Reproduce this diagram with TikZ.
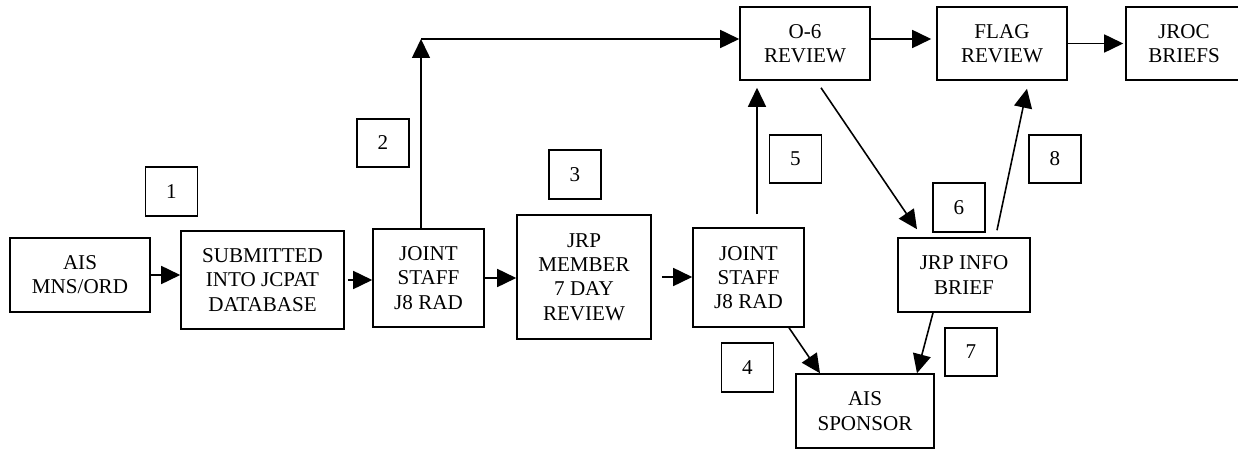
\documentclass[tikz,border=0pt]{standalone}
\usepackage{fontspec}
\setmainfont{Liberation Serif}
\usetikzlibrary{arrows.meta}
\usetikzlibrary{positioning}

\tikzset{
	box/.style={draw, line width=0.9pt, align=center, inner sep=0pt, font=\fontsize{12}{13.8}\selectfont},
	numbox/.style={box, minimum width=1.04cm, minimum height=0.97cm},
	arr/.style={-{Triangle[length=3.8mm,width=3.6mm]}, line width=0.9pt}
}

\begin{document}
\begin{tikzpicture}[x=0.02cm, y=-0.02cm]
	\useasboundingbox (0,0) rectangle (1238,449);
	% main row
	\node [box, minimum width=2.80cm, minimum height=1.48cm] at (80,275) (ais) {AIS\\MNS/ORD};
	\node [box, minimum width=3.26cm, minimum height=1.96cm] at (262.5,280) (submit) {SUBMITTED\\INTO JCPAT\\DATABASE};
	\node [box, minimum width=2.22cm, minimum height=1.96cm] at (428.5,278) (jsa) {JOINT\\STAFF\\J8 RAD};
	\node [box, minimum width=2.68cm, minimum height=2.48cm] at (584,277) (jrp) {JRP\\MEMBER\\7 DAY\\REVIEW};
	\node [box, minimum width=2.22cm, minimum height=1.98cm] at (748.5,277.5) (jsb) {JOINT\\STAFF\\J8 RAD};
	% top row
	\node [box, minimum width=2.60cm, minimum height=1.46cm] at (805,43.5) (osix) {O-6\\REVIEW};
	\node [box, minimum width=2.60cm, minimum height=1.46cm] at (1002,43.5) (flag) {FLAG\\REVIEW};
	\node [box, minimum width=2.32cm, minimum height=1.46cm] at (1184,43.5) (jroc) {JROC\\BRIEFS};
	% right side
	\node [box, minimum width=2.64cm, minimum height=1.48cm] at (964,275) (info) {JRP INFO\\BRIEF};
	\node [box, minimum width=2.76cm, minimum height=1.48cm] at (865,411) (sponsor) {AIS\\SPONSOR};
	% step numbers
	\node [numbox] at (171.5,191.5) (n1) {1};
	\node [numbox] at (383,143) (n2) {2};
	\node [numbox] at (575,174.5) (n3) {3};
	\node [numbox] at (747.5,367.5) (n4) {4};
	\node [numbox] at (795.5,159) (n5) {5};
	\node [numbox] at (959,207.5) (n6) {6};
	\node [numbox] at (971,352) (n7) {7};
	\node [numbox] at (1055,159) (n8) {8};
	\coordinate (up) at (421,39);
	% arrows
	\draw [arr] (ais.east) -- (ais.east -| submit.west);
	\draw [arr, shorten <=3*0.02cm] (submit.east) -- (submit.east -| jsa.west);
	\draw [arr] (jsa.east) -- (jsa.east -| jrp.west);
	\draw [arr, shorten <=10*0.02cm] (jrp.east) -- (jrp.east -| jsb.west);
	\draw [arr] (up |- jsa.north) -- (up);
	\draw [arr] (up) -- (up -| osix.west);
	\draw [arr, shorten >=5*0.02cm] (up -| osix.east) -- (up -| flag.west);
	\draw [arr, shorten >=2*0.02cm] (flag.east) -- (flag.east -| jroc.west);
	\draw [arr, shorten <=13*0.02cm, shorten >=7*0.02cm] ([xshift=8.5*0.02cm]jsb.north) -- ([xshift=8.5*0.02cm]jsb.north |- osix.south);
	\draw [arr] ([shift={(16,7)}]osix.south) -- ([shift={(-47,-8)}]info.north);
	\draw [arr] ([shift={(33,-7)}]info.north) -- ([shift={(25,8)}]flag.south);
	\draw [arr] ([xshift=40.5*0.02cm]jsb.south) -- ([xshift=-45*0.02cm]sponsor.north);
	\draw [arr] ([xshift=-31*0.02cm]info.south) -- ([xshift=52*0.02cm]sponsor.north);
\end{tikzpicture}
\end{document}
